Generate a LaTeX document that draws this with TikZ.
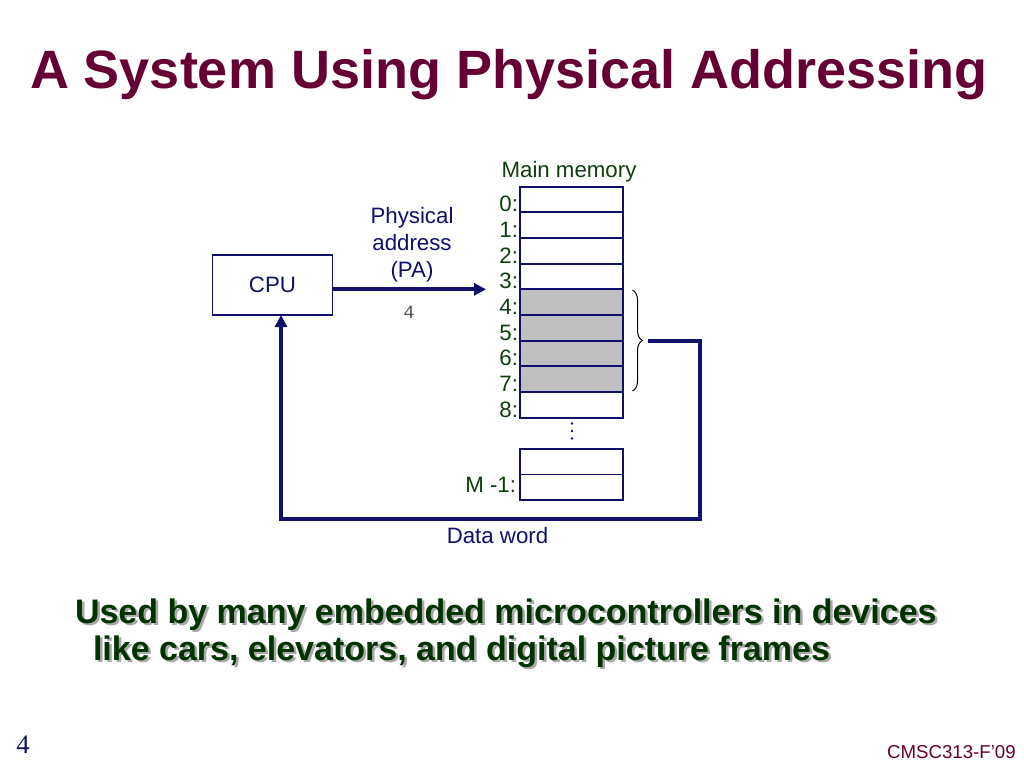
\documentclass[tikz,border=0pt]{standalone}
\usepackage{fontspec}
\setmainfont{Liberation Sans}
\newfontfamily\monofont{Liberation Mono}
\newfontfamily\seriffont{Liberation Serif}
\usetikzlibrary{arrows.meta,decorations.pathreplacing}
\definecolor{cmaroon}{HTML}{660033}
\definecolor{cnavy}{HTML}{10106A}
\definecolor{cgreen}{HTML}{003300}
\definecolor{clgreen}{HTML}{0F3F0F}
\definecolor{cshadow}{HTML}{A8A8A8}
\definecolor{cgray}{HTML}{C0C0C0}
\definecolor{cmono}{HTML}{505058}
\tikzset{
  lbl/.style={inner sep=0pt, outer sep=0pt, font=\fontsize{16.7}{20}\selectfont},
  navytxt/.style={lbl, text=cnavy},
  greentxt/.style={lbl, text=clgreen},
  cell/.style={draw=cnavy, line width=1.4pt, fill=white, inner sep=0pt, outer sep=0pt,
    minimum width=77pt, minimum height=19.25pt},
  grcell/.style={cell, fill=cgray},
  cpubox/.style={draw=cnavy, line width=1.2pt, inner sep=0pt, outer sep=0pt,
    minimum width=90pt, minimum height=45pt, font=\fontsize{16.7}{20}\selectfont, text=cnavy},
  thickline/.style={draw=cnavy, line width=3pt},
  tip/.style={-{Triangle[length=9pt,width=9pt]}},
  bodytxt/.style={inner sep=0pt, outer sep=0pt, anchor=base west,
    font=\fontsize{25.5}{30}\selectfont\bfseries}
}
\begin{document}
\begin{tikzpicture}[x=0.75pt,y=-0.75pt]
\useasboundingbox[fill=white] (0,0) rectangle (1024,768);

% title
\node[inner sep=0pt, outer sep=0pt, anchor=base west, text=cmaroon,
  font=\fontsize{40.5}{48}\selectfont\bfseries] (title) at (30,88) {A System Using Physical Addressing};

% CPU
\node[cpubox] (cpu) at (272.5,285) {CPU};

% memory
\node[greentxt, anchor=base] (mmlabel) at (569,177) {Main memory};
\foreach \i in {0,...,3,8} {
  \node[cell] (m\i) at (571.3,199.5+25.67*\i) {};
}
\foreach \i in {4,...,7} {
  \node[grcell] (m\i) at (571.3,199.5+25.67*\i) {};
}
\foreach \i in {0,...,8} {
  \node[greentxt, anchor=base east] (l\i) at (518,211.7+25.67*\i) {\i:};
}
\node[cell] (mb1) at (571.3,461.7) {};
\node[cell] (mb2) at (571.3,487.3) {};
\node[greentxt, anchor=base east] (lm) at (516,492) {M -1:};

% vertical dots
\foreach \y [count=\k] in {423.5,431,438.5} {
  \node[circle, fill=cnavy, inner sep=0pt, minimum size=2.2pt] (dot\k) at (572,\y) {};
}

% brace
\draw[line width=0.75pt, decorate, decoration={brace, amplitude=7.5pt}] (632.5,290) -- (632.5,391);

% address arrow
\coordinate (pa) at (486,289.3);
\draw[thickline, tip] (pa -| cpu.east) -- (pa);
\node[navytxt, align=center, font=\fontsize{16.7}{20.25}\selectfont, anchor=base] (palbl) at (412,277) {Physical\\address\\(PA)};
\node[inner sep=0pt, text=cmono, font=\monofont\fontsize{14}{16}\selectfont] (four) at (409,312.5) {4};

% data path
\coordinate (d0) at (648,340.7);
\coordinate (d1) at (700,519);
\coordinate (d2) at (281,519);
\draw[thickline, tip] (d0) -| (d1) -- (d2) -- (d2 |- cpu.south);
\node[navytxt, anchor=base] (dw) at (497.5,543) {Data word};

% bottom text with shadow
\node[bodytxt, text=cshadow] (s1) at (77.5,625.5) {Used by many embedded microcontrollers in devices};
\node[bodytxt, text=cshadow] (s2) at (95.5,662.5) {like cars, elevators, and digital picture frames};
\node[bodytxt, text=cgreen] (t1) at (75,623) {Used by many embedded microcontrollers in devices};
\node[bodytxt, text=cgreen] (t2) at (93,660) {like cars, elevators, and digital picture frames};

% footer
\node[inner sep=0pt, anchor=base west, text=cnavy, font=\seriffont\fontsize{20}{24}\selectfont] (pg) at (16,753) {4};
\node[inner sep=0pt, anchor=base east, text=cmaroon, font=\fontsize{14}{16}\selectfont] (foot) at (1016,758) {CMSC313-F’09};
\end{tikzpicture}
\end{document}
